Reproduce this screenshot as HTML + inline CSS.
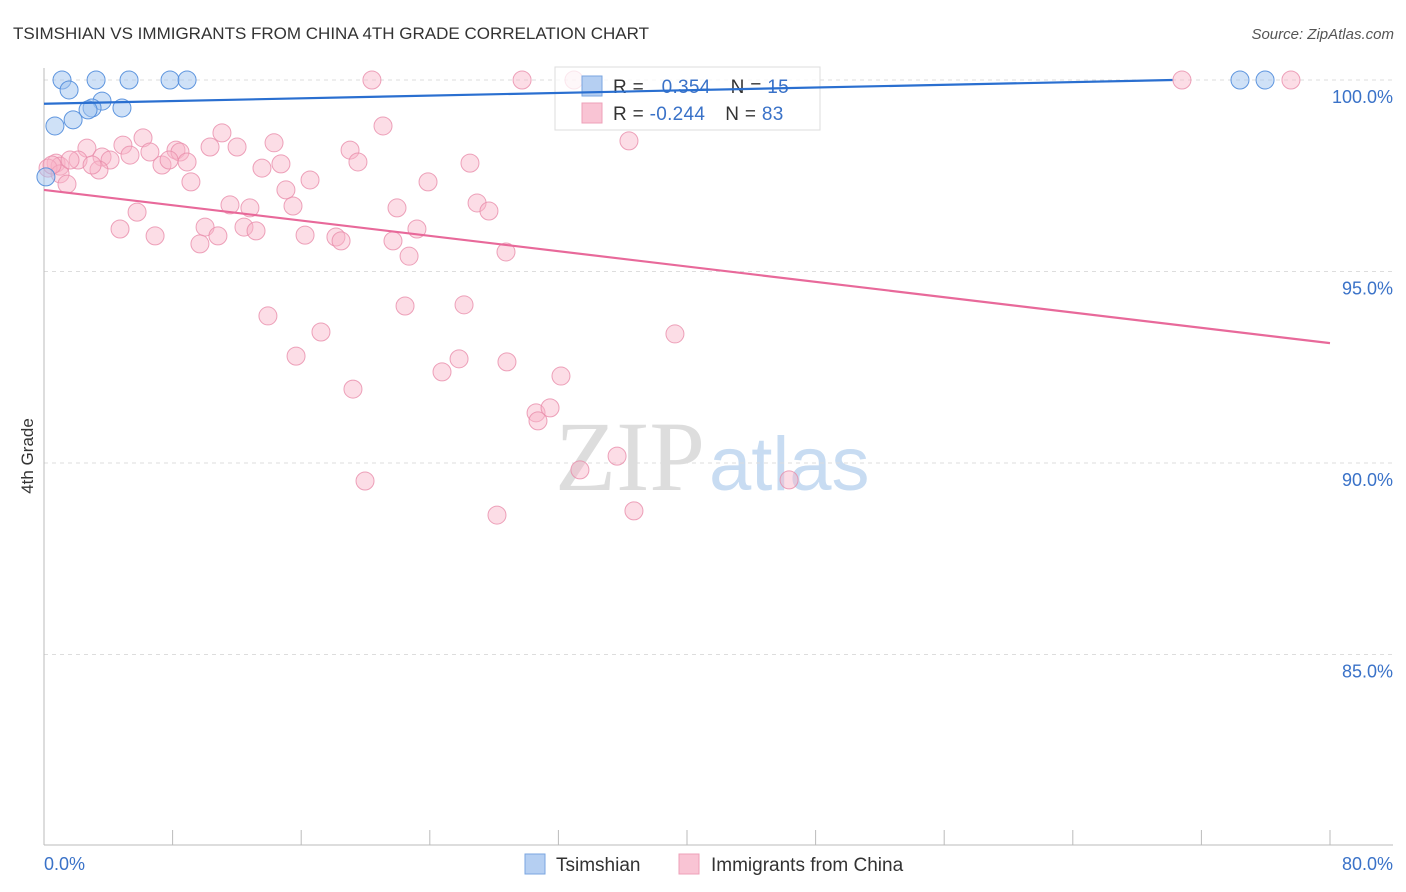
<!DOCTYPE html>
<html><head><meta charset="utf-8"><style>
body{margin:0;background:#fff;font-family:"Liberation Sans",sans-serif}
svg{display:block}
</style></head><body>
<svg id="chart" width="1406" height="892" xmlns="http://www.w3.org/2000/svg">
<text x="13" y="39" font-size="17" fill="#333">TSIMSHIAN VS IMMIGRANTS FROM CHINA 4TH GRADE CORRELATION CHART</text>
<text x="1394" y="39" font-size="15" fill="#555" font-style="italic" text-anchor="end">Source: ZipAtlas.com</text>
<text x="555" y="490" font-size="100" font-family="Liberation Serif,serif"><tspan fill="#ddd">ZIP</tspan><tspan fill="#c8dcf2" font-family="Liberation Sans,sans-serif" font-size="76" dx="4">atlas</tspan></text>
<g id="grid"></g><g id="axes"></g><g id="pts"></g>
<g>
<rect x="555" y="67" width="265" height="63" fill="rgba(255,255,255,0.75)" stroke="#ddd"/>
<rect x="582" y="76" width="20" height="20" fill="#b5cff2" stroke="#7aa6e0"/>
<rect x="582" y="103" width="20" height="20" fill="#f9c4d4" stroke="#eea0b8"/>
<text x="613" y="93" font-size="19" fill="#333" letter-spacing="0.3">R = <tspan fill="#3a72c8" dx="12">0.354</tspan><tspan dx="20" fill="#333">N = </tspan><tspan fill="#3a72c8">15</tspan></text>
<text x="613" y="120" font-size="19" fill="#333" letter-spacing="0.3">R = <tspan fill="#3a72c8">-0.244</tspan><tspan dx="20" fill="#333">N = </tspan><tspan fill="#3a72c8">83</tspan></text>
</g>
<g id="lines"></g>
<text transform="translate(33,456) rotate(-90)" font-size="17" fill="#333" text-anchor="middle">4th Grade</text>
<g>
<rect x="525" y="854" width="20" height="20" fill="#b5cff2" stroke="#7aa6e0"/>
<text x="556" y="871" font-size="19" fill="#333">Tsimshian</text>
<rect x="679" y="854" width="20" height="20" fill="#f9c4d4" stroke="#eea0b8"/>
<text x="711" y="871" font-size="19" fill="#333">Immigrants from China</text>
</g>
</svg>
<script>
const yTicks=[100,95,90,85];
const yTickLabels=["100.0%","95.0%","90.0%","85.0%"];
const xTickLabels=["0.0%","80.0%"];
const blueX=[1.12,3.24,5.29,7.84,8.9,1.56,3.61,4.85,2.99,2.74,1.81,0.68,0.12,74.4,75.96];
const blueY=[100,100,100,100,100,99.74,99.45,99.27,99.27,99.22,98.96,98.8,97.47,100,100];
const pinkPx=[[372,80],[522,80],[574,80],[1182,80],[1291,80],[629,141],[383,126],[143,138],[222,133],[274,143],[123,145],[210,147],[237,147],[87,148],[176,150],[150,152],[180,152],[130,155],[102,157],[350,150],[78,160],[110,160],[162,165],[187,162],[169,160],[281,164],[262,168],[358,162],[470,163],[56,163],[60,166],[48,168],[99,170],[60,174],[92,165],[67,184],[191,182],[310,180],[428,182],[286,190],[477,203],[489,211],[293,206],[230,205],[250,208],[397,208],[137,212],[120,229],[155,236],[205,227],[218,236],[244,227],[256,231],[305,235],[336,237],[341,241],[393,241],[417,229],[200,244],[409,256],[506,252],[268,316],[405,306],[464,305],[321,332],[675,334],[296,356],[459,359],[507,362],[442,372],[561,376],[353,389],[536,413],[550,408],[538,421],[580,470],[617,456],[365,481],[789,480],[497,515],[634,511],[52,165],[70,160]];
const pinkX=pinkPx.map(p=>+((p[0]-44)/1286*80).toFixed(2));
const pinkY=pinkPx.map(p=>+(100-(p[1]-80)/38.3).toFixed(2));
const blueTrend=[[0,99.38],[70.2,100]];
const pinkTrend=[[0,97.13],[80,93.13]];
const X=v=>44+v/80*1286, Y=v=>80+(100-v)*38.3;
const NS="http://www.w3.org/2000/svg";
function mk(t,a,p){const e=document.createElementNS(NS,t);for(const k in a)e.setAttribute(k,a[k]);p.appendChild(e);return e;}
const grid=document.getElementById('grid'),axes=document.getElementById('axes'),pts=document.getElementById('pts'),lines=document.getElementById('lines');
yTicks.forEach((t,i)=>{
 const l=mk('line',{x1:44,x2:1393,y1:Y(t),y2:Y(t),stroke:'#ddd','stroke-dasharray':'4,4'},grid);
 
 const tx=mk('text',{x:1393,y:Y(t)+23,'font-size':18,fill:'#3a72c8','text-anchor':'end'},axes);
 tx.textContent=yTickLabels[i];
 
});
mk('line',{x1:44,x2:44,y1:68,y2:845,stroke:'#bbb'},axes);
mk('line',{x1:44,x2:1393,y1:845,y2:845,stroke:'#bbb'},axes);
for(let i=0;i<=10;i++){const l=mk('line',{x1:X(i*8),x2:X(i*8),y1:830,y2:845,stroke:'#bbb'},axes);}
const xl0=mk('text',{x:44,y:870,'font-size':18,fill:'#3a72c8'},axes);xl0.textContent=xTickLabels[0];

const xl1=mk('text',{x:1393,y:870,'font-size':18,fill:'#3a72c8','text-anchor':'end'},axes);xl1.textContent=xTickLabels[1];

pinkX.forEach((v,i)=>{const c=mk('circle',{cx:X(v),cy:Y(pinkY[i]),r:9,fill:'rgba(248,180,200,0.45)',stroke:'rgba(232,140,170,0.8)','stroke-width':1},pts);
 });
blueX.forEach((v,i)=>{const c=mk('circle',{cx:X(v),cy:Y(blueY[i]),r:9,fill:'rgba(160,195,240,0.5)',stroke:'rgba(80,140,220,0.9)','stroke-width':1},pts);
 });
const bl=mk('line',{x1:X(blueTrend[0][0]),y1:Y(blueTrend[0][1]),x2:X(blueTrend[1][0]),y2:Y(blueTrend[1][1]),stroke:'#2a6fd0','stroke-width':2.2},lines);

const pl=mk('line',{x1:X(pinkTrend[0][0]),y1:Y(pinkTrend[0][1]),x2:X(pinkTrend[1][0]),y2:Y(pinkTrend[1][1]),stroke:'#e8699a','stroke-width':2.2},lines);

</script>
</body></html>
